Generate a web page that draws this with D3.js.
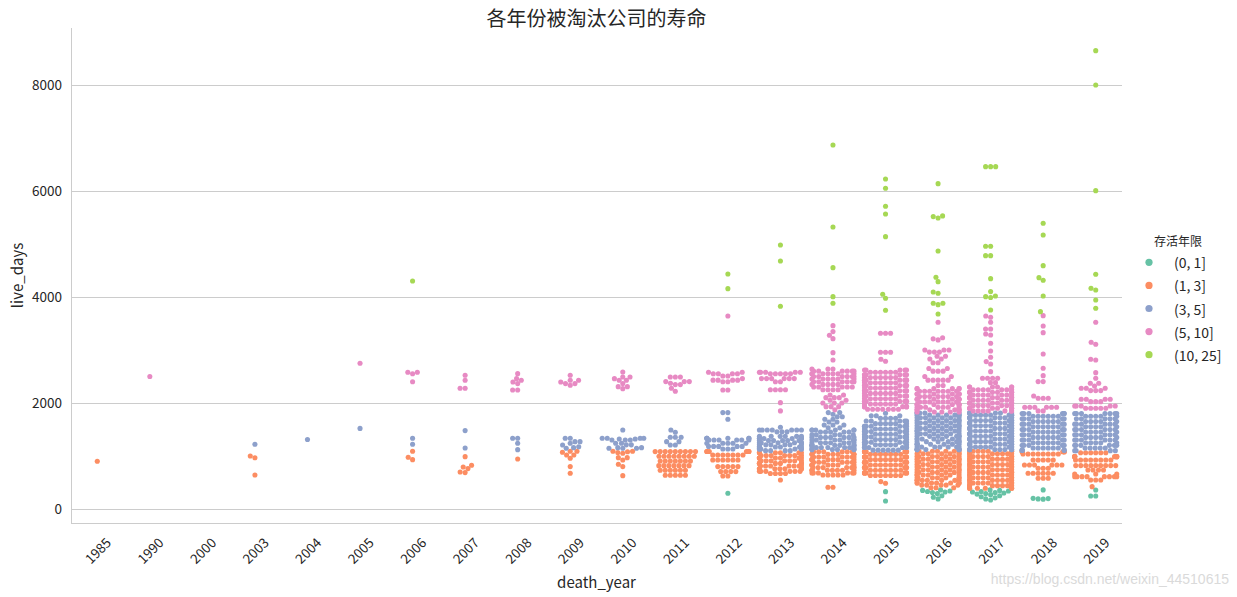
<!DOCTYPE html>
<html><head><meta charset="utf-8">
<script src="https://cdn.jsdelivr.net/npm/d3@7"></script>
<style>
body{margin:0;background:#fff}
svg{display:block}
text{font-family:"Noto Sans CJK SC","Noto Sans",sans-serif;fill:#262626}
</style>
</head><body>
<svg id="chart" width="1237" height="597"></svg>
<script>
// ---------- data (live_days per death_year, as [value, count]) ----------
const years = ["1985","1990","2000","2003","2004","2005","2006","2007","2008","2009",
               "2010","2011","2012","2013","2014","2015","2016","2017","2018","2019"];
const days_1985 = [[900,1]];
const days_1990 = [[2500,1]];
const days_2000 = [];
const days_2003 = [[640,1],[965,1],[1000,1],[1220,1]];
const days_2004 = [[1310,1]];
const days_2005 = [[1520,1],[2750,1]];
const days_2006 = [[930,1],[975,1],[1090,1],[1220,1],[1334,1],[2400,1],[2550,1],[2580,2],[4300,1]];
const days_2007 = [[686,1],[698,1],[761,1],[792,1],[824,1],[987,1],[1151,1],[1478,1],[2277,2],[2428,1],[2522,1]];
const days_2008 = [[943,1],[1119,1],[1239,1],[1334,2],[2245,2],[2365,1],[2396,1],[2428,1],[2459,1],[2553,1]];
const days_2009 = [[673,1],[799,1],[956,1],[1019,2],[1070,1],[1090,2],[1145,1],[1157,1],[1175,1],[1208,1],[1240,1],[1270,2],[1334,2],
                   [2334,1],[2365,2],[2396,1],[2428,2],[2522,1]];
const days_2010 = [[628,1],[799,1],[843,1],[925,1],[968,2],[1050,1],[1065,1],[1080,1],[1090,2],[1145,3],[1157,2],[1210,2],[1239,2],
                   [1300,3],[1320,2],[1334,4],[1490,1],[2270,1],[2308,2],[2365,1],[2428,2],[2459,1],[2491,2],[2585,1]];
const days_2011 = [[636,5],[730,6],[817,7],[906,7],[994,8],[1082,9],[1208,2],[1270,2],[1352,3],[1447,1],[1490,1],
                   [2220,1],[2277,1],[2346,2],[2371,1],[2403,3],[2491,3]];
const days_2012 = [[296,1],[623,2],[705,4],[799,5],[925,6],[1019,7],[1085,6],[1130,3],[1180,5],[1240,5],[1300,6],[1334,6],
                   [1692,1],[1818,2],[2245,2],[2400,2],[2430,4],[2460,1],[2510,2],[2550,4],[2580,2],[3640,1],[4157,1],[4434,1]];
const days_2013 = [[547,1],[670,4],[710,6],[760,7],[810,7],[860,7],[910,7],[960,7],[1010,7],[1060,6],
                   [1100,4],[1130,6],[1170,6],[1210,6],[1250,6],[1290,6],[1330,6],[1370,6],[1455,3],[1490,7],[1541,1],
                   [1850,1],[2006,1],[2250,4],[2400,2],[2460,6],[2550,5],[2580,5],[3824,1],[4679,1],[4981,1]];
const days_2014 = [[410,2],[640,5],[680,6],[730,7],[780,7],[830,7],[880,7],[930,7],[980,7],[1030,7],[1080,6],
                   [1120,6],[1160,7],[1200,7],[1250,7],[1300,7],[1350,7],[1400,5],[1450,5],[1490,6],[1530,2],[1585,3],
                   [1640,2],[1692,2],[1740,2],[1786,1],[1818,2],
                   [1870,1],[1930,3],[2000,3],[2050,2],[2100,3],[2150,2],[2250,4],[2300,5],[2350,5],[2400,6],[2450,6],
                   [2500,6],[2550,7],[2600,6],[2641,3],[2811,1],[2949,1],[3213,1],[3277,1],[3346,1],[3459,1],
                   [3881,1],[4006,1],[4553,1],[5320,1],[6868,1]];
const days_2015 = [[151,1],[327,1],[484,1],[516,1],
                   [630,7],[680,7],[730,7],[780,7],[830,7],[880,7],[930,7],[980,7],[1030,7],[1080,7],
                   [1110,6],[1160,7],[1210,7],[1260,7],[1310,7],[1360,7],[1410,7],[1460,7],[1510,7],[1560,7],
                   [1610,6],[1660,5],[1710,4],[1760,3],[1805,1],
                   [1880,7],[1930,7],[1980,7],[2030,7],[2080,7],[2130,7],[2180,7],[2230,7],[2280,7],[2330,7],
                   [2380,7],[2430,7],[2480,7],[2530,6],[2580,6],[2623,5],[2786,1],[2824,1],[2956,3],[3314,3],
                   [3749,1],[3975,1],[4050,1],[5138,1],[5566,1],[5711,1],[6050,1],[6226,1]];
const days_2016 = [[190,1],[220,1],[250,1],[290,1],[310,1],[320,1],[330,1],[340,1],[350,1],[360,1],
                   [400,3],[450,5],[490,7],[540,7],[590,7],[640,7],[690,7],[740,7],[790,7],[840,7],[890,7],
                   [940,7],[990,7],[1040,7],[1090,6],
                   [1120,7],[1170,7],[1220,7],[1270,7],[1320,7],[1370,7],[1420,7],[1470,7],[1520,7],[1570,7],
                   [1620,7],[1670,7],[1720,7],[1770,7],[1810,5],
                   [1830,5],[1870,7],[1920,7],[1970,7],[2020,7],[2070,7],[2120,7],[2170,7],[2220,7],[2270,6],
                   [2330,2],[2430,5],[2500,2],[2600,3],[2650,2],[2760,2],[2830,2],[2880,2],[2960,3],[3000,3],
                   [3190,1],[3210,1],[3230,1],[3522,1],
                   [3679,1],[3855,1],[3881,2],[4069,1],[4094,1],[4289,1],[4371,1],[4868,1],[5490,1],[5516,1],
                   [5530,1],[6138,1]];
const days_2017 = [[170,1],[190,1],[210,1],[230,1],[250,1],[270,1],[280,1],[290,1],[300,1],[310,1],[320,1],
                   [330,1],[340,1],[350,1],[360,1],
                   [390,6],[440,7],[490,7],[540,7],[590,7],[640,7],[690,7],[740,7],[790,7],[840,7],[890,7],
                   [940,7],[990,7],[1040,7],[1090,7],
                   [1120,8],[1170,8],[1220,8],[1270,8],[1320,8],[1370,8],[1420,8],[1470,8],[1520,8],[1570,8],
                   [1620,8],[1670,8],[1720,8],[1770,8],[1810,6],
                   [1850,7],[1900,7],[1950,7],[2000,7],[2050,7],[2100,7],[2150,7],[2200,7],[2250,7],[2300,6],
                   [2383,2],[2465,4],[2591,1],[2736,1],[2780,1],[2862,1],[2981,1],[3126,1],[3283,1],[3302,1],
                   [3396,2],[3522,1],[3616,1],[3640,1],
                   [3755,1],[3990,1],[4006,1],[4019,1],[4101,1],[4346,1],[4780,2],[4956,2],[6459,3]];
const days_2018 = [[185,1],[190,1],[195,1],[200,1],[360,1],
                   [579,3],[673,6],[767,3],[830,6],[925,5],[1038,8],[1080,6],
                   [1110,5],[1150,6],[1200,5],[1250,6],[1300,5],[1350,6],[1400,5],[1450,6],[1500,5],[1550,6],
                   [1600,5],[1650,6],[1700,5],[1750,6],[1800,6],
                   [1850,2],[1918,6],[2090,3],[2132,1],[2403,2],[2515,1],[2654,1],[2925,1],[3327,1],[3453,1],[3647,1],
                   [3723,1],[4019,1],[4315,1],[4364,1],[4591,1],[5170,1],[5390,1]];
const days_2019 = [[245,2],[358,1],
                   [421,1],[547,3],[610,8],[660,3],[736,4],[818,9],[925,8],[987,8],[1060,6],
                   [1100,4],[1150,5],[1200,6],[1250,5],[1300,6],[1350,5],[1400,6],[1450,5],[1500,6],[1550,5],
                   [1600,6],[1650,5],[1700,5],[1750,5],[1800,7],
                   [1899,5],[1943,5],[2025,3],[2069,4],[2233,3],[2277,3],[2321,1],[2371,2],[2465,1],[2572,1],
                   [2811,1],[2824,1],[3107,1],[3145,1],[3522,1],
                   [3786,1],[3943,1],[4132,1],[4164,1],[4428,1],[6006,1],[8000,1],[8648,1]];
const yearValues = [days_1985,days_1990,days_2000,days_2003,days_2004,days_2005,days_2006,days_2007,days_2008,days_2009,
                    days_2010,days_2011,days_2012,days_2013,days_2014,days_2015,days_2016,days_2017,days_2018,days_2019];

const yTicks = [0, 2000, 4000, 6000, 8000];
const hueLabels = ["(0, 1]", "(1, 3]", "(3, 5]", "(5, 10]", "(10, 25]"];
const hueEdges = [365, 1095, 1825, 3650];          // day limits of 1, 3, 5, 10 years
const hueColors = ["#66c2a5", "#fc8d62", "#8da0cb", "#e78ac3", "#a6d854"];

// ---------- layout ----------
const svg = d3.select("#chart");
const L = 71, R = 1122, T = 28, B = 523;
const x = d3.scaleBand().domain(years).range([L, R]);
const y = d3.scaleLinear().domain([-265, 9075]).range([B, T]);
const hue = d3.scaleThreshold().domain(hueEdges).range(hueColors);

// grid
svg.append("g").selectAll("line").data(yTicks).join("line")
  .attr("x1", L).attr("x2", R)
  .attr("y1", d => Math.round(y(d)) + 0.5).attr("y2", d => Math.round(y(d)) + 0.5)
  .attr("stroke", "#cccccc").attr("stroke-width", 1);

// spines
svg.append("line").attr("x1", L + 0.5).attr("x2", L + 0.5).attr("y1", T).attr("y2", B + 0.5)
  .attr("stroke", "#cccccc");
svg.append("line").attr("x1", L).attr("x2", R).attr("y1", B + 0.5).attr("y2", B + 0.5)
  .attr("stroke", "#cccccc");

// y axis labels
const yAxis = svg.append("g").attr("transform", `translate(${L},0)`)
  .call(d3.axisLeft(y).tickValues(yTicks).tickSize(0).tickPadding(9).tickFormat(d3.format("d")));
yAxis.select(".domain").remove();
yAxis.selectAll("text").style("font-size", "13.5px").attr("fill", "#262626");

// x axis labels
const xAxis = svg.append("g").attr("transform", `translate(0,${B})`)
  .call(d3.axisBottom(x).tickSize(0));
xAxis.select(".domain").remove();
xAxis.selectAll("text")
  .attr("y", 0).attr("dy", null)
  .attr("text-anchor", "middle").attr("dominant-baseline", "central")
  .attr("transform", "translate(0,27) rotate(-45)")
  .style("font-size", "13.5px").attr("fill", "#262626");

// ---------- swarm (seaborn-like beeswarm) ----------
const D = 4.8, RAD = 2.55;
const half = 0.4 * x.step();
function swarm(values, cx) {
  const vals = values.slice().sort((a, b) => a - b);
  const placed = [];
  for (const v of vals) {
    const yu = -y(v);
    if (!placed.length) { placed.push({x: cx, yu, v}); continue; }
    const nb = [];
    for (let j = placed.length - 1; j >= 0; j--) {
      if (yu - placed[j].yu < D) nb.push(placed[j]); else break;
    }
    nb.reverse();
    const cands = [cx];
    let left = true;
    for (const q of nb) {
      const dy = yu - q.yu;
      const dx = Math.sqrt(Math.max(D * D - dy * dy, 0)) * 1.05;
      if (left) cands.push(q.x - dx, q.x + dx); else cands.push(q.x + dx, q.x - dx);
      left = !left;
    }
    const order = cands.map((c, i) => [Math.abs(c - cx), i, c]).sort((a, b) => a[0] - b[0] || a[1] - b[1]);
    let chosen = cx;
    for (const o of order) {
      const c = o[2];
      let ok = true;
      for (const q of nb) {
        const ddx = q.x - c, ddy = q.yu - yu;
        if (ddx * ddx + ddy * ddy < D * D - 1e-6) { ok = false; break; }
      }
      if (ok) { chosen = c; break; }
    }
    placed.push({x: chosen, yu, v});
  }
  for (const p of placed) {
    if (p.x < cx - half) p.x = cx - half;
    if (p.x > cx + half) p.x = cx + half;
  }
  return placed;
}

const pts = [];
years.forEach((yr, i) => {
  const vals = [];
  yearValues[i].forEach(([v, c]) => { for (let k = 0; k < c; k++) vals.push(v); });
  const cx = x(yr) + x.bandwidth() / 2;
  swarm(vals, cx).forEach(p => pts.push(p));
});

svg.append("g").selectAll("circle").data(pts).join("circle")
  .attr("cx", d => d.x).attr("cy", d => -d.yu).attr("r", RAD)
  .attr("fill", d => hue(d.v));

// ---------- titles ----------
svg.append("text").attr("x", (L + R) / 2).attr("y", 17).attr("text-anchor", "middle")
  .attr("dominant-baseline", "central").style("font-size", "20px").text("各年份被淘汰公司的寿命");
svg.append("text").attr("transform", `translate(16,${(T + B) / 2}) rotate(-90)`).attr("text-anchor", "middle")
  .attr("dominant-baseline", "central").style("font-size", "15px").text("live_days");
svg.append("text").attr("x", (L + R) / 2).attr("y", 581).attr("text-anchor", "middle")
  .attr("dominant-baseline", "central").style("font-size", "15px").text("death_year");

// ---------- legend ----------
const lg = svg.append("g");
lg.append("text").attr("x", 1178).attr("y", 240).attr("text-anchor", "middle")
  .attr("dominant-baseline", "central").style("font-size", "12px").text("存活年限");
hueLabels.forEach((lab, i) => {
  const yy = 262.3 + i * 23.1;
  lg.append("circle").attr("cx", 1149).attr("cy", yy).attr("r", 3.6).attr("fill", hueColors[i]);
  lg.append("text").attr("x", 1174).attr("y", yy).attr("dominant-baseline", "central")
    .style("font-size", "14px").text(lab);
});

// watermark
svg.append("text").attr("x", 1229).attr("y", 579).attr("text-anchor", "end")
  .attr("dominant-baseline", "central")
  .style("font-family", "'Liberation Sans', Arial, sans-serif").style("font-size", "14px")
  .style("fill", "#dadada").text("https://blog.csdn.net/weixin_44510615");
</script>
</body></html>
